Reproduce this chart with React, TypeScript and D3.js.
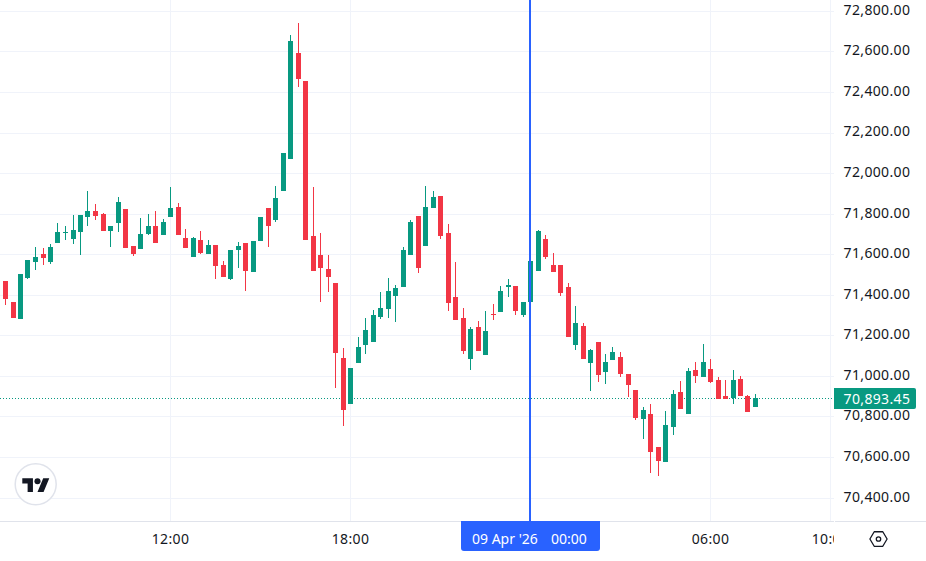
import React from "react";
import * as d3 from "d3";

// 15 minute bars, first one at 08 Apr 2026 06:30 UTC
const firstBar = Date.UTC(2026, 3, 8, 6, 30);
const barMinutes = 15;

const opens = [
  71471, 71368, 71284, 71486, 71565, 71604, 71565, 71658, 71708, 71678, 71713, 71786, 71816, 71801, 71717, 71757, 71826,
  71644, 71629, 71703, 71742, 71698, 71786, 71836, 71683, 71589, 71673, 71604, 71648, 71550, 71481, 71624, 71658, 71516,
  71668, 71831, 71772, 71914, 72072, 72594, 72456, 71692, 71599, 71530, 71461, 71091, 70865, 71067, 71155, 71170, 71293,
  71333, 71397, 71441, 71599, 71791, 71643, 71830, 71890, 71707, 71392, 71289, 71087, 71244, 71106, 71308, 71318, 71441,
  71446, 71303, 71367, 71520, 71678, 71550, 71550, 71441, 71155, 71249, 71067, 71170, 71023, 71082, 71096, 71013, 70934,
  70791, 70816, 70653, 70579, 70752, 70924, 70816, 71032, 70998, 71037, 70983, 70904, 70894, 70988, 70904, 70850,
];
const highs = [
  71471, 71368, 71506, 71575, 71639, 71634, 71653, 71757, 71742, 71796, 71796, 71915, 71850, 71806, 71742, 71885, 71826,
  71644, 71782, 71801, 71816, 71777, 71934, 71855, 71727, 71688, 71717, 71673, 71648, 71570, 71624, 71663, 71658, 71668,
  71786, 71831, 71939, 72101, 72683, 72742, 72456, 71934, 71707, 71599, 71461, 71141, 71042, 71195, 71289, 71328, 71417,
  71486, 71451, 71638, 71771, 71791, 71939, 71914, 71890, 71752, 71564, 71338, 71244, 71274, 71323, 71357, 71446, 71481,
  71446, 71367, 71569, 71722, 71697, 71609, 71550, 71461, 71348, 71264, 71136, 71170, 71111, 71146, 71121, 71013, 70934,
  70850, 70865, 70653, 70830, 70934, 70978, 71042, 71072, 71160, 71087, 70998, 70983, 71032, 71003, 70909, 70914,
];
const lows = [
  71353, 71289, 71284, 71481, 71525, 71550, 71555, 71658, 71673, 71653, 71599, 71742, 71772, 71717, 71639, 71713, 71634,
  71594, 71629, 71698, 71658, 71698, 71786, 71698, 71634, 71589, 71604, 71604, 71481, 71491, 71476, 71535, 71422, 71516,
  71668, 71639, 71762, 71914, 72072, 72426, 71673, 71520, 71367, 71417, 70944, 70757, 70865, 71067, 71111, 71170, 71284,
  71289, 71269, 71441, 71599, 71510, 71643, 71830, 71678, 71323, 71279, 71111, 71032, 71126, 71106, 71279, 71318, 71392,
  71303, 71293, 71348, 71520, 71579, 71515, 71397, 71195, 71131, 71087, 70929, 70973, 70963, 71082, 70998, 70899, 70786,
  70692, 70525, 70510, 70579, 70712, 70840, 70816, 70968, 70998, 70968, 70889, 70889, 70865, 70904, 70825, 70850,
];
const closes = [
  71382, 71289, 71506, 71575, 71589, 71584, 71639, 71713, 71713, 71722, 71796, 71816, 71791, 71717, 71742, 71860, 71634,
  71604, 71703, 71742, 71658, 71762, 71831, 71698, 71634, 71683, 71609, 71648, 71545, 71491, 71624, 71644, 71520, 71668,
  71786, 71742, 71880, 72101, 72653, 72466, 71673, 71520, 71535, 71490, 71116, 70835, 71042, 71146, 71229, 71303, 71338,
  71422, 71436, 71623, 71761, 71535, 71835, 71885, 71692, 71362, 71279, 71126, 71234, 71126, 71224, 71303, 71422, 71451,
  71323, 71367, 71569, 71717, 71589, 71515, 71412, 71195, 71264, 71087, 71131, 71008, 71072, 71121, 71013, 70958, 70796,
  70835, 70628, 70584, 70761, 70914, 70840, 71027, 71003, 71072, 70973, 70889, 70889, 70983, 70904, 70825, 70893.45,
];

const priceTicks = [72800, 72600, 72400, 72200, 72000, 71800, 71600, 71400, 71200, 71000, 70800, 70600, 70400];
const timeTicks = [
  Date.UTC(2026, 3, 8, 12),
  Date.UTC(2026, 3, 8, 18),
  Date.UTC(2026, 3, 9, 0),
  Date.UTC(2026, 3, 9, 6),
  Date.UTC(2026, 3, 9, 10),
];
const timeLabelTicks = [timeTicks[0], timeTicks[1], timeTicks[3], timeTicks[4]];
const crosshairTime = Date.UTC(2026, 3, 9, 0);
const crosshairDate = "09 Apr '26";
const lastPrice = 70893.45;

const green = "#089981";
const red = "#F23645";
const blue = "#2962FF";
const grid = "#f0f3fa";
const border = "#e0e3eb";
const ink = "#131722";
const font = "'Noto Sans', sans-serif";

const width = 926;
const height = 561;
const paneRight = 834;
const paneBottom = 521;

const App = (): React.JSX.Element => {
  const x = d3.scaleUtc([timeTicks[0], timeTicks[3]], [170.5, 710.5]);
  const y = d3.scaleLinear([72800, 70400], [11.4, 498.1]);
  const fmtPrice = d3.format(",.2f");
  const fmtTime = d3.utcFormat("%H:%M");
  const hexagon = d3.line().curve(d3.curveLinearClosed)(
    d3.range(6).map((i) => {
      const a = (i * Math.PI) / 3;
      return [878.5 + 8.6 * Math.cos(a), 539 + 8.4 * Math.sin(a)] as [number, number];
    }),
  ) as string;

  return (
    <svg width={width} height={height} style={{ position: "absolute", left: 0, top: 0, background: "#fff" }}>
      <defs>
        <clipPath id="timeAxis">
          <rect x={0} y={paneBottom} width={paneRight} height={height - paneBottom} />
        </clipPath>
      </defs>

      {/* grid */}
      <g stroke={grid} strokeWidth={1}>
        {priceTicks.map((p) => (
          <line key={p} x1={0} x2={paneRight} y1={Math.floor(y(p)) + 0.5} y2={Math.floor(y(p)) + 0.5} />
        ))}
        {timeTicks.map((t) => (
          <line key={t} x1={Math.floor(x(t)) + 0.5} x2={Math.floor(x(t)) + 0.5} y1={0} y2={paneBottom} />
        ))}
      </g>

      {/* last price line */}
      <line
        x1={0}
        x2={paneRight}
        y1={Math.floor(y(lastPrice)) + 0.5}
        y2={Math.floor(y(lastPrice)) + 0.5}
        stroke={green}
        strokeWidth={1}
        strokeDasharray="1 2"
      />

      {/* candles */}
      <g>
        {opens.map((o, i) => {
          const c = closes[i];
          const color = c >= o ? green : red;
          const cx = x(firstBar + i * barMinutes * 60000);
          const left = Math.round(cx - 2.5);
          const top = Math.round(y(Math.max(o, c)));
          const bottom = Math.round(y(Math.min(o, c)));
          const wickTop = Math.round(y(highs[i]));
          const wickBottom = Math.round(y(lows[i]));
          return (
            <g key={i} fill={color}>
              <rect x={left + 2} y={wickTop} width={1} height={wickBottom - wickTop} />
              <rect x={left} y={top} width={5} height={Math.max(bottom - top, 1)} />
            </g>
          );
        })}
      </g>

      {/* crosshair */}
      <rect x={Math.floor(x(crosshairTime)) - 1} y={0} width={2} height={paneBottom} fill={blue} />

      {/* logo */}
      <circle cx={35.7} cy={484.3} r={20.5} fill="#fff" stroke={border} strokeWidth={1.5} />
      <g transform="translate(22.3 475.2) scale(0.76)" fill={ink}>
        <path d="M14 22H7V11H0V4h14v18zM28 22h-8l7.5-18h8L28 22z" />
        <circle cx={20} cy={8} r={4} />
      </g>

      {/* axes */}
      <line x1={0} x2={paneRight} y1={paneBottom + 0.5} y2={paneBottom + 0.5} stroke={border} />
      <line x1={paneRight + 1} x2={width} y1={paneBottom + 0.5} y2={paneBottom + 0.5} stroke={border} />

      <g fontFamily={font} fontSize={14} fill={ink} letterSpacing={0.35}>
        {priceTicks.map((p) => (
          <text key={p} x={910.3} y={y(p) + 3.4} textAnchor="end">
            {fmtPrice(p)}
          </text>
        ))}
        <g clipPath="url(#timeAxis)">
          {timeLabelTicks.map((t) => (
            <text key={t} x={x(t)} y={544} textAnchor="middle">
              {fmtTime(new Date(t))}
            </text>
          ))}
        </g>
      </g>

      {/* last price label */}
      <path d="M834 388H914a2 2 0 0 1 2 2V407a2 2 0 0 1-2 2H834Z" fill={green} />
      <text x={910.3} y={403.5} textAnchor="end" fontFamily={font} fontSize={14} letterSpacing={0.35} fill="#fff">
        {fmtPrice(lastPrice)}
      </text>

      {/* crosshair time label */}
      <path d="M461 521H600V548a3 3 0 0 1-3 3H464a3 3 0 0 1-3-3Z" fill={blue} />
      <g fontFamily={font} fontSize={14} fill="#fff">
        <text x={472} y={544}>
          {crosshairDate}
        </text>
        <text x={551} y={544}>
          {fmtTime(new Date(crosshairTime))}
        </text>
      </g>

      {/* settings icon */}
      <path d={hexagon} fill="none" stroke={ink} strokeWidth={1.3} strokeLinejoin="round" />
      <circle cx={878.5} cy={539} r={2.2} fill="none" stroke={ink} strokeWidth={1.3} />
    </svg>
  );
};

export default App;
